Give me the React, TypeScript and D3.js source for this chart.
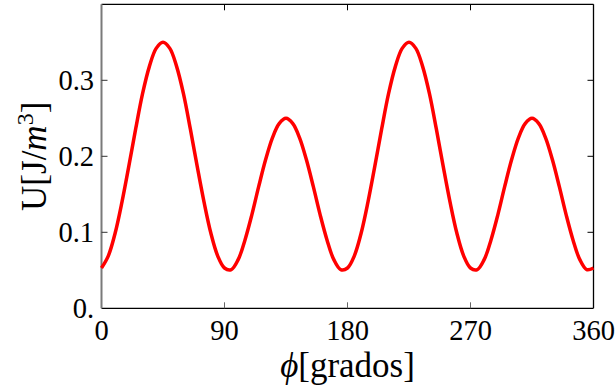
import React from "react";
import * as d3 from "d3";

const phiDeg = [
  0, 5, 10, 15, 20, 25, 30, 35, 40, 45, 50, 55, 60, 65, 70, 75, 80, 85, 90,
  95, 100, 105, 110, 115, 120, 125, 130, 135, 140, 145, 150, 155, 160, 165, 170, 175, 180,
  185, 190, 195, 200, 205, 210, 215, 220, 225, 230, 235, 240, 245, 250, 255, 260, 265, 270,
  275, 280, 285, 290, 295, 300, 305, 310, 315, 320, 325, 330, 335, 340, 345, 350, 355, 360,
];

const uValues = [
  0.053, 0.069, 0.099, 0.140, 0.187, 0.236, 0.282, 0.318, 0.342, 0.350, 0.342, 0.318, 0.282, 0.236, 0.187, 0.140, 0.099, 0.069, 0.053,
  0.051, 0.064, 0.090, 0.123, 0.160, 0.195, 0.224, 0.243, 0.250, 0.243, 0.224, 0.195, 0.160, 0.123, 0.090, 0.064, 0.051, 0.053,
  0.069, 0.099, 0.140, 0.187, 0.236, 0.282, 0.318, 0.342, 0.350, 0.342, 0.318, 0.282, 0.236, 0.187, 0.140, 0.099, 0.069, 0.053,
  0.051, 0.064, 0.090, 0.123, 0.160, 0.195, 0.224, 0.243, 0.250, 0.243, 0.224, 0.195, 0.160, 0.123, 0.090, 0.064, 0.051, 0.053,
];

const xTicks = [0, 90, 180, 270, 360];
const xTickLabels = ["0", "90", "180", "270", "360"];
const yTicks = [0, 0.1, 0.2, 0.3];
const yTickLabels = ["0.", "0.1", "0.2", "0.3"];

const W = 616;
const H = 392;
const FONT = "'Liberation Serif', 'Times New Roman', 'DejaVu Serif', serif";

export default function App() {
  const x = d3.scaleLinear().domain([0, 360]).range([101.5, 593.5]);
  const y = d3.scaleLinear().domain([0, 0.4]).range([308.3, 4.3]);
  const pts: [number, number][] = phiDeg.map((p, i) => [p, uValues[i]]);
  const line = d3
    .line<[number, number]>()
    .x((d) => x(d[0]))
    .y((d) => y(d[1]))
    .curve(d3.curveCatmullRom.alpha(0.5));
  const x0 = x(0), x1 = x(360), yb = y(0), yt = y(0.4);
  const tl = 6;
  return (
    <svg
      width={W}
      height={H}
      style={{ position: "fixed", left: 0, top: 0, background: "#fff" }}
      fontFamily={FONT}
    >
      <rect x={0} y={0} width={W} height={H} fill="#fff" />
      {/* frame */}
      <line x1={x0} x2={x1} y1={yt} y2={yt} stroke="#000" strokeWidth={1.3} />
      <line x1={x1} x2={x1} y1={yt} y2={yb} stroke="#000" strokeWidth={1.3} />
      <line x1={x0} x2={x1} y1={yb} y2={yb} stroke="#000" strokeWidth={1.3} />
      <line x1={x0} x2={x0} y1={yt} y2={yb} stroke="#7a7a7a" strokeWidth={2} />
      {/* x ticks */}
      {xTicks.slice(1, -1).map((t) => (
        <g key={"xt" + t}>
          <line x1={x(t)} x2={x(t)} y1={yb} y2={yb - tl} stroke="#666" strokeWidth={1} />
          <line x1={x(t)} x2={x(t)} y1={yt} y2={yt + tl} stroke="#000" strokeWidth={1} />
        </g>
      ))}
      {/* y ticks */}
      {yTicks.slice(1).map((t) => (
        <g key={"yt" + t}>
          <line x1={x0} x2={x0 + tl} y1={y(t)} y2={y(t)} stroke="#333" strokeWidth={1} />
          <line x1={x1} x2={x1 - tl} y1={y(t)} y2={y(t)} stroke="#000" strokeWidth={1} />
        </g>
      ))}
      {/* x tick labels */}
      {xTicks.map((t, i) => (
        <text key={"xl" + t} x={x(t)} y={340} fontSize={28.5} textAnchor="middle" fill="#000">
          {xTickLabels[i]}
        </text>
      ))}
      {/* y tick labels */}
      {yTicks.map((t, i) => (
        <text
          key={"yl" + t}
          x={94}
          y={y(t) + 10}
          fontSize={28.5}
          textAnchor="end"
          fill="#000"
        >
          {yTickLabels[i]}
        </text>
      ))}
      {/* curve */}
      <path d={line(pts) || ""} fill="none" stroke="#ff0000" strokeWidth={3.5} strokeLinejoin="round" />
      {/* axis labels */}
      <text x={(x0 + x1) / 2} y={377} fontSize={35} textAnchor="middle" fill="#000">
        <tspan fontStyle="italic">ϕ</tspan>
        <tspan>[grados]</tspan>
      </text>
      <text
        transform={`translate(46, ${(yt + yb) / 2}) rotate(-90)`}
        fontSize={35}
        textAnchor="middle"
        fill="#000"
      >
        <tspan>U[J/</tspan>
        <tspan fontStyle="italic">m</tspan>
        <tspan fontSize={24} dy={-13}>3</tspan>
        <tspan dy={13}>]</tspan>
      </text>
    </svg>
  );
}
